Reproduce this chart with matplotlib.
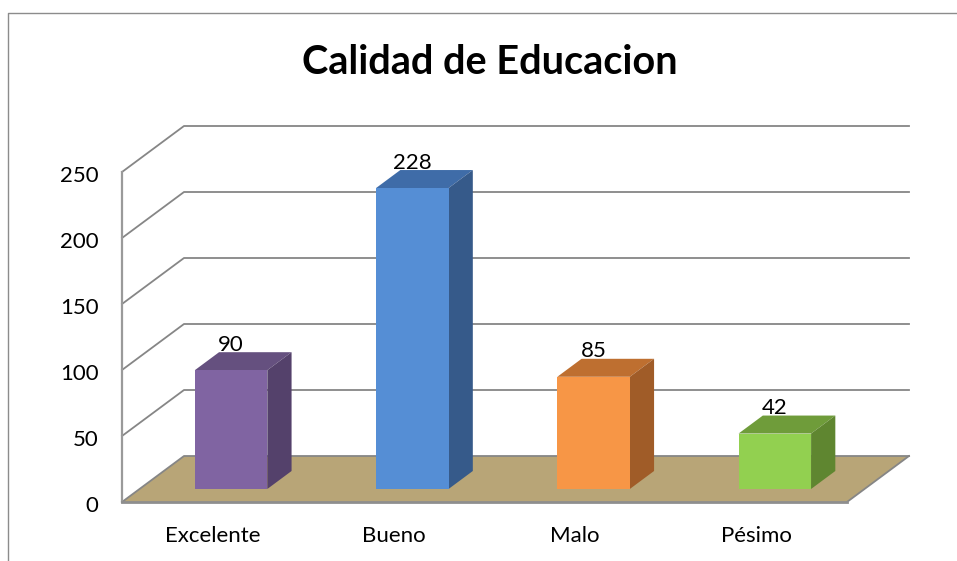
import matplotlib
matplotlib.use('Agg')
import matplotlib.pyplot as plt
from matplotlib.patches import Polygon
from matplotlib.transforms import ScaledTranslation

categories = ['Excelente', 'Bueno', 'Malo', 'Pésimo']
values = [90, 228, 85, 42]
front_colors = ['#8064A2', '#558ED5', '#F79646', '#92D050']
top_colors = ['#65507F', '#3F6CA8', '#BE6F30', '#6F9C3A']
side_colors = ['#54416B', '#365A8A', '#A05C28', '#5F8630']
y_ticks = [0, 50, 100, 150, 200, 250]

W, H = 957, 561
plt.rcParams['font.family'] = ['Lato', 'DejaVu Sans']

fig = plt.figure(figsize=(W / 100, H / 100), dpi=100)
fig.patch.set_facecolor('white')
# axes box = front plane of the 3d chart
ax = fig.add_axes([122 / W, 1 - 502 / H, 725 / W, 330 / H])
ax.set_xlim(0, 4)
ax.set_ylim(0, 250)
ax.patch.set_alpha(0)
for s in ax.spines.values():
    s.set_visible(False)

# depth 1 = back wall, expressed in data units
dx = 62 / (725 / 4)
dy = 46 / (330 / 250)


def pt(x, y, d=0.0):
    return (x + d * dx, y + d * dy)


grid = '#868686'
# floor
ax.add_patch(Polygon([pt(0, 0), pt(4, 0), pt(4, 0, 1), pt(0, 0, 1)], fc='#B8A577', ec='none',
                     clip_on=False, zorder=1))
# walls / gridlines
for t in y_ticks:
    ax.plot(*zip(pt(0, t), pt(0, t, 1), pt(4, t, 1)), color=grid, lw=1.3, clip_on=False, zorder=1.5)
ax.plot(*zip(pt(0, 0), pt(0, 250)), color='#9A9A9A', lw=1.6, clip_on=False, zorder=1.5)
ax.plot(*zip(pt(0, 0), pt(4, 0)), color='#8E8E8E', lw=2, clip_on=False, zorder=1.6)
ax.plot(*zip(pt(4, 0), pt(4, 0, 1)), color=grid, lw=1.3, clip_on=False, zorder=1.5)

# bars
bar_w = 0.4
d0, d1 = 0.283, 0.674
for i, v in enumerate(values):
    x0 = i + 0.305
    x1 = x0 + bar_w
    ax.add_patch(Polygon([pt(x0, v, d0), pt(x1, v, d0), pt(x1, v, d1), pt(x0, v, d1)], fc=top_colors[i], ec='none',
                         clip_on=False, zorder=3))
    ax.add_patch(Polygon([pt(x1, 0, d0), pt(x1, 0, d1), pt(x1, v, d1), pt(x1, v, d0)], fc=side_colors[i], ec='none',
                         clip_on=False, zorder=3))
    ax.add_patch(Polygon([pt(x0, 0, d0), pt(x1, 0, d0), pt(x1, v, d0), pt(x0, v, d0)], fc=front_colors[i], ec='none',
                         clip_on=False, zorder=4))
    # label sits on the back edge of the bar top, centred on the front face
    ax.annotate(str(v), (pt(x0 + bar_w / 2, v, d0)[0], pt(0, v, d1)[1]), xytext=(0, 1), textcoords='offset points',
                ha='center', va='baseline', fontsize=16, color='black', zorder=5, annotation_clip=False)

ax.set_xticks([i + 0.5 for i in range(len(categories))], categories)
ax.set_yticks(y_ticks)
ax.tick_params(axis='x', length=0, labelsize=16, pad=17)
ax.tick_params(axis='y', length=0, labelsize=16, pad=17)
# y labels sit about 2px below their gridline
for lab in ax.get_yticklabels():
    lab.set_transform(lab.get_transform() + ScaledTranslation(0, -2 / 100, fig.dpi_scale_trans))

fig.text(490 / W, 1 - 63 / H, 'Calidad de Educacion', ha='center', va='center', fontsize=28.5, fontweight='bold')

# chart frame, right side and bottom are cut off in the original
fig.add_artist(plt.Line2D([8 / W, 8 / W, 1], [0, 1 - 13 / H, 1 - 13 / H], transform=fig.transFigure,
                          color='#8C8C8C', lw=1))

fig.savefig('out.png', dpi=100)
